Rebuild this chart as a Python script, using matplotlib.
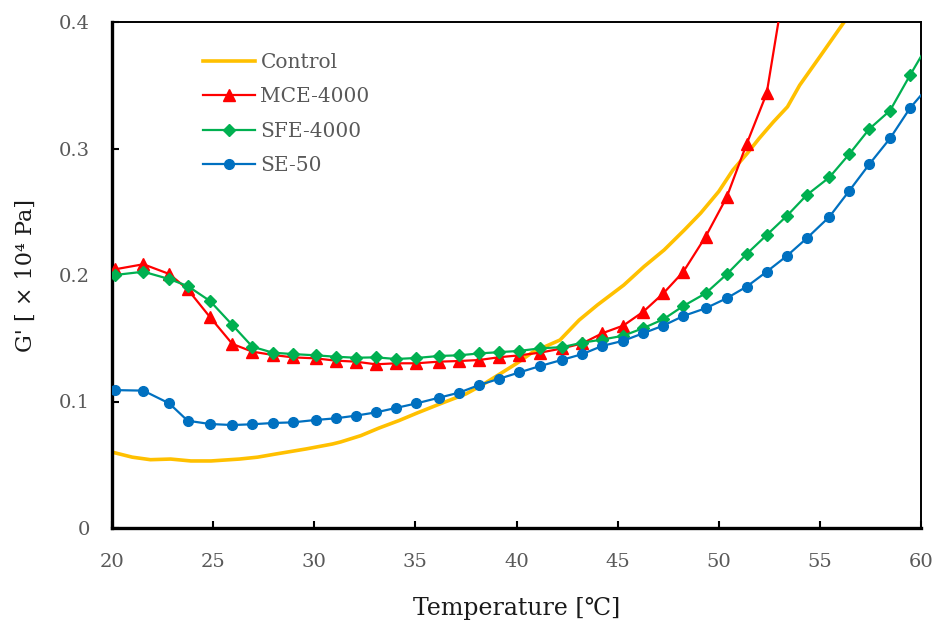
import matplotlib
matplotlib.use("Agg")
import matplotlib.pyplot as plt

# ---------------- data ----------------
temp = [20.15, 21.55, 22.83, 23.74, 24.85, 25.95, 26.94, 27.95, 28.94, 30.07,
        31.06, 32.05, 33.05, 34.04, 35.05, 36.17, 37.16, 38.15, 39.15, 40.14,
        41.16, 42.27, 43.26, 44.25, 45.28, 46.27, 47.26, 48.25, 49.35, 50.39,
        51.38, 52.37, 53.36, 54.35, 55.47, 56.46, 57.44, 58.47, 59.46, 60.45]

se50 = [0.109, 0.1086, 0.0985, 0.0848, 0.0822, 0.0814, 0.082, 0.083, 0.0835, 0.0854,
        0.0867, 0.0888, 0.0914, 0.0949, 0.0985, 0.103, 0.107, 0.113, 0.118, 0.123,
        0.128, 0.133, 0.1375, 0.144, 0.148, 0.154, 0.160, 0.1676, 0.1737, 0.1816,
        0.1908, 0.2026, 0.215, 0.229, 0.246, 0.2667, 0.2875, 0.308, 0.332, 0.3505]

sfe4000 = [0.200, 0.2026, 0.1968, 0.1913, 0.1794, 0.1605, 0.1433, 0.1386, 0.1375, 0.1365,
           0.1354, 0.1346, 0.1349, 0.1336, 0.1344, 0.136, 0.1365, 0.138, 0.139, 0.140,
           0.142, 0.143, 0.1465, 0.149, 0.152, 0.158, 0.165, 0.1755, 0.1855, 0.2005,
           0.2166, 0.2316, 0.2466, 0.2632, 0.2772, 0.2957, 0.3154, 0.330, 0.358, 0.385]

mce4000 = [0.2045, 0.2085, 0.2008, 0.1887, 0.1666, 0.1455, 0.1394, 0.1368, 0.1349, 0.1341,
           0.1323, 0.1315, 0.1294, 0.1302, 0.1302, 0.1315, 0.132, 0.1328, 0.135, 0.1365,
           0.1386, 0.142, 0.146, 0.154, 0.160, 0.171, 0.1855, 0.2026, 0.2303, 0.2614,
           0.3036, 0.3436, 0.44]
mce_temp = temp[:len(mce4000)]

control_temp = [20.0, 20.5, 21.0, 21.9, 22.9, 23.9, 24.9, 26.3, 27.2, 28.1, 29.6, 30.9,
                31.3, 32.3, 33.2, 34.2, 35.1, 36.2, 37.5, 38.3, 39.2, 40.0, 40.8, 41.5,
                42.15, 43.1, 44.0, 45.3, 46.3, 47.3, 48.3, 49.1, 50.0, 50.7, 51.4, 52.0,
                52.7, 53.4, 54.0, 55.0, 56.2, 57.0]
control = [0.060, 0.058, 0.056, 0.054, 0.0545, 0.053, 0.053, 0.0545, 0.056, 0.0585, 0.0625, 0.0664,
           0.068, 0.073, 0.079, 0.085, 0.091, 0.098, 0.106, 0.113, 0.122, 0.130, 0.139, 0.144,
           0.1486, 0.1644, 0.1763, 0.192, 0.2066, 0.2198, 0.2356, 0.2488, 0.266, 0.283, 0.296, 0.308,
           0.321, 0.333, 0.350, 0.3726, 0.400, 0.42]

labels = ["Control", "MCE-4000", "SFE-4000", "SE-50"]
xticks = [20, 25, 30, 35, 40, 45, 50, 55, 60]
yticks = [0, 0.1, 0.2, 0.3, 0.4]
ytick_labels = ["0", "0.1", "0.2", "0.3", "0.4"]

# ---------------- style ----------------
FONT = ["DejaVu Serif", "Liberation Serif", "Noto Sans CJK JP"]
plt.rcParams["font.family"] = FONT
GRAY = "#595959"

fig = plt.figure(figsize=(9.36, 6.23), dpi=100)
ax = fig.add_axes([112 / 936, 95 / 623, 809 / 936, 506 / 623])

ax.plot(control_temp, control, color="#FFC000", lw=2.6, label=labels[0], zorder=2)
ax.plot(mce_temp, mce4000, color="#FF0000", lw=1.6, marker="^", ms=8,
        label=labels[1], zorder=3)
ax.plot(temp, sfe4000, color="#00B050", lw=1.6, marker="D", ms=6,
        label=labels[2], zorder=4)
ax.plot(temp, se50, color="#0070C0", lw=1.6, marker="o", ms=7,
        label=labels[3], zorder=5)

ax.set_xlim(20, 60)
ax.set_ylim(0, 0.4)
ax.set_xticks(xticks)
ax.set_yticks(yticks)
ax.set_yticklabels(ytick_labels)

ax.tick_params(axis="both", direction="in", length=5, width=1.5, colors="black",
               labelcolor=GRAY, labelsize=14)
ax.tick_params(axis="x", pad=18)
ax.tick_params(axis="y", pad=16)

for side in ("left", "bottom"):
    ax.spines[side].set_linewidth(2.4)
for side in ("top", "right"):
    ax.spines[side].set_linewidth(1.4)

ax.set_xlabel("Temperature [℃]", fontsize=17, color="#1a1a1a", labelpad=19,
              family=FONT)
ax.set_ylabel("G' [ × 10⁴ Pa]", fontsize=16, color="#1a1a1a", labelpad=16,
              family=FONT)

leg = ax.legend(loc="upper left", bbox_to_anchor=(0.1125, 0.938), frameon=False,
                fontsize=14.5, handlelength=2.6, handletextpad=0.25,
                labelspacing=0.75, borderpad=0, borderaxespad=0)
for t in leg.get_texts():
    t.set_color(GRAY)

fig.savefig("out.png", dpi=100)
